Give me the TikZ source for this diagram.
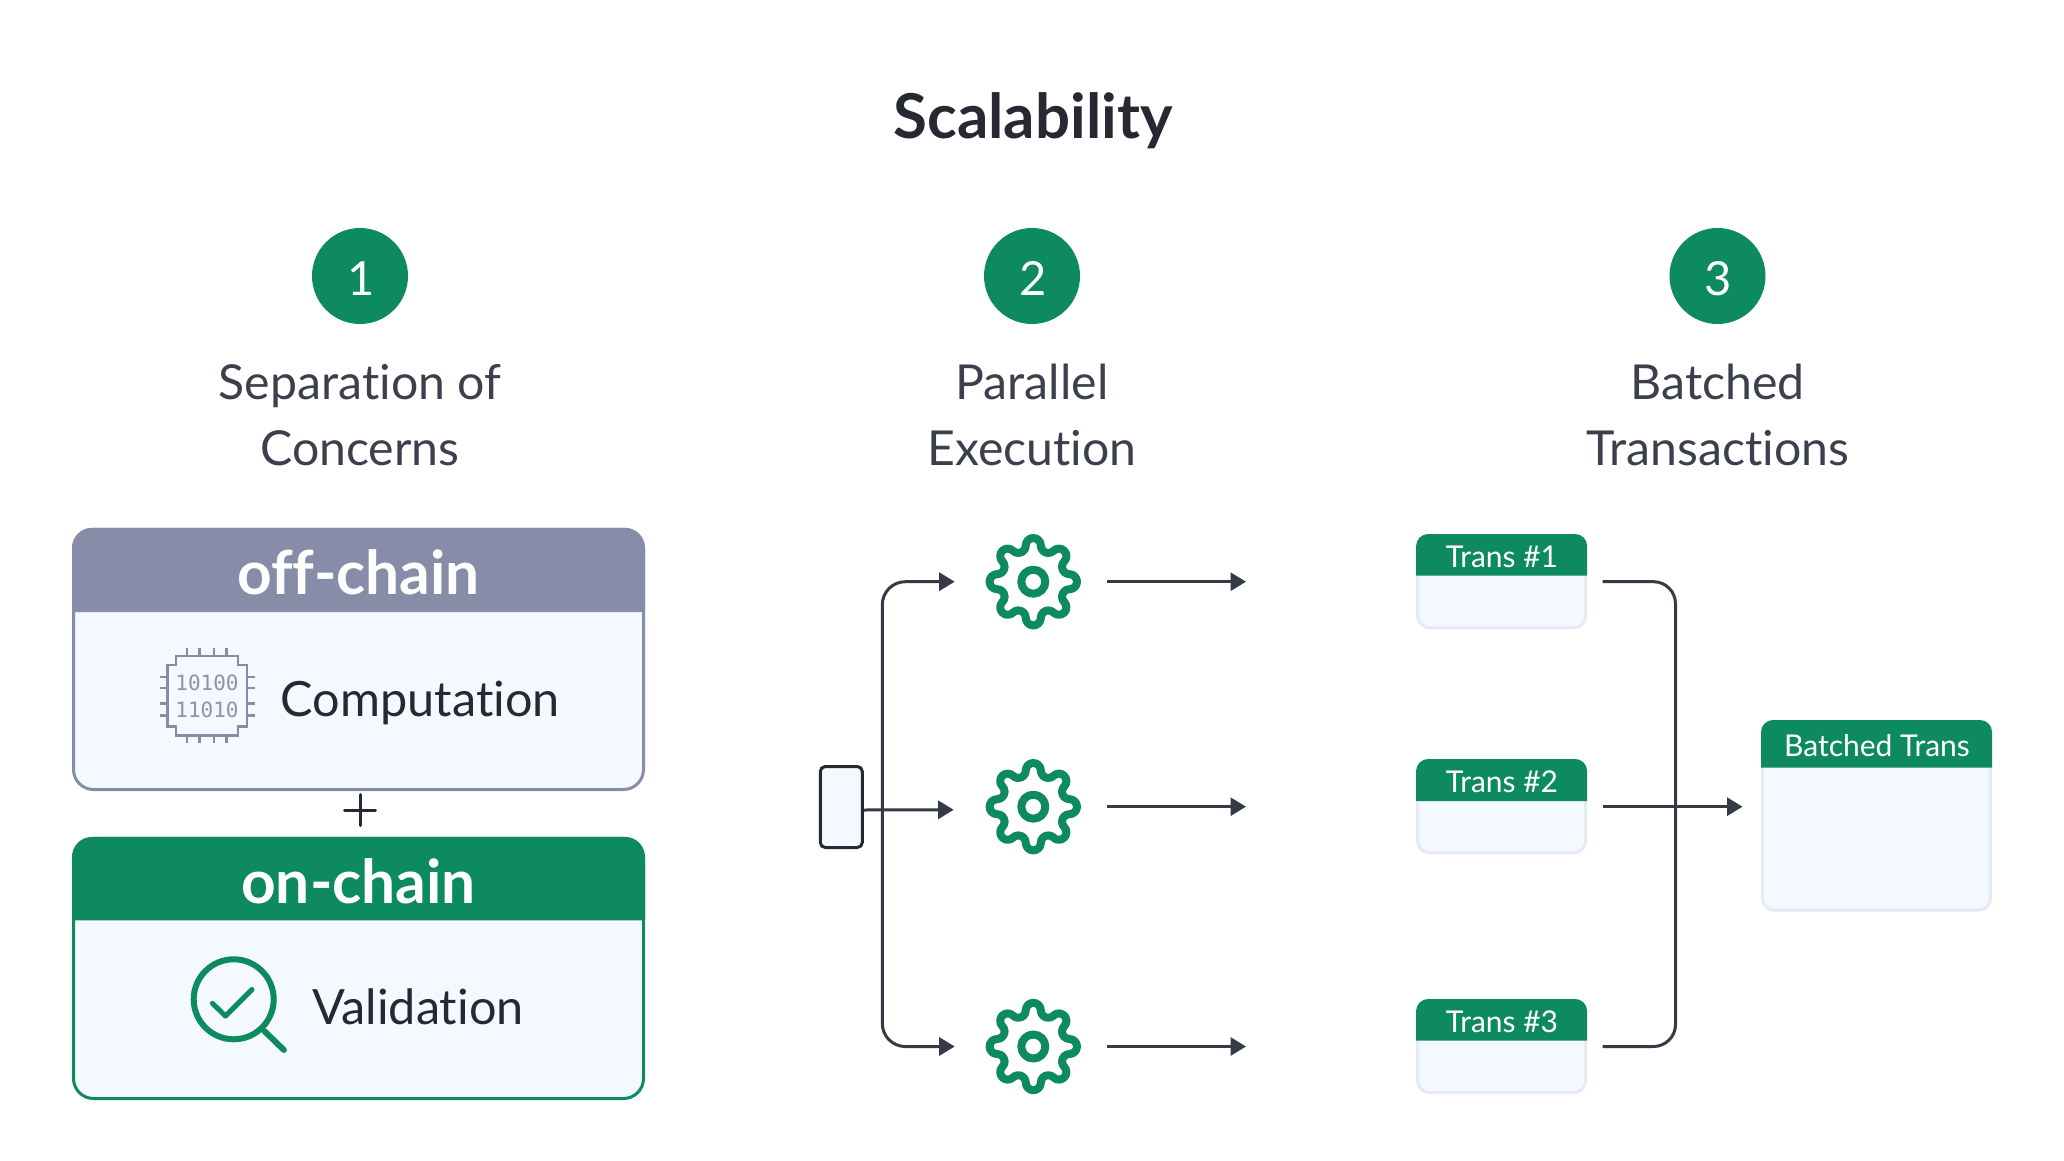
\documentclass[tikz,border=0pt]{standalone}
\usepackage{fontspec}
\setmainfont{Lato}[Ligatures=NoCommon]
\newfontfamily\chipfont{DejaVu Sans Mono}
\usetikzlibrary{arrows.meta}
\definecolor{brandgreen}{HTML}{0E8A5F}
\definecolor{slate}{HTML}{878CA8}
\definecolor{chiptext}{HTML}{8E92AC}
\definecolor{panel}{HTML}{F4F8FF}
\definecolor{softedge}{HTML}{E6EAF2}
\definecolor{inkdark}{HTML}{262932}
\definecolor{inklabel}{HTML}{3B404C}
\definecolor{wire}{HTML}{363A47}
\newcommand{\fsz}[1]{\fontsize{#1}{#1}\selectfont}
\newcommand{\gearicon}[2]{%
  \begin{scope}[shift={(#1,#2)},x=1pt,y=1pt]
  \draw[geardraw] (36.2,-7.5) \foreach \k in {0,45,...,315} {
      arc[start angle=\k-90,end angle=\k+90,radius=7.5]
      arc[start angle=\k-90,end angle=\k-225,radius=7.5]
    } -- cycle;
  \draw[geardraw] (0,0) circle[radius=12];
  \end{scope}
}
\newcommand{\headerband}[5]{%
  \fill[#5,rounded corners=#4] (#1) -- (#1 |- #2) -- (#3 |- #2) [sharp corners] -- (#3 |- #1) -- cycle;
}
\tikzset{
  geardraw/.style={draw=brandgreen,line width=8pt,line join=round},
  gearnode/.style={circle,minimum size=95.4pt,inner sep=0pt},
  numdisc/.style={circle,fill=brandgreen,minimum size=96pt,inner sep=0pt},
  numtext/.style={anchor=base,text=white,font=\fsz{47}},
  heading/.style={anchor=base,text=inklabel,font=\fsz{48.2}},
  bigbox/.style={rounded corners=20pt,line width=3pt,fill=panel,minimum width=570pt,inner sep=0pt},
  bandtext/.style={anchor=base,text=white,font=\bfseries\fsz{60.4}},
  itemtext/.style={anchor=base west,inner sep=0pt,text=inkdark,font=\fsz{48.6}},
  tbox/.style={rounded corners=12pt,draw=softedge,line width=3pt,fill=panel,inner sep=0pt},
  ttext/.style={anchor=base,text=white,font=\fsz{30}},
  wirearrow/.style={draw=wire,line width=3pt,-{Triangle[length=15.5pt,width=18pt]}},
  wireplain/.style={draw=wire,line width=3pt},
}
\begin{document}
\begin{tikzpicture}[x=1pt,y=-1pt]
\useasboundingbox (0,0) rectangle (2064,1161);
\fill[white] (0,0) rectangle (2064,1161);

\node[anchor=base,text=inkdark,font=\bfseries\fsz{61.8}] (title) at (1033,139) {Scalability};

\node[numdisc] (c1) at (360,276) {};
\node[numdisc] (c2) at (1032,276) {};
\node[numdisc] (c3) at (1717.5,276) {};
\node[numtext] (n1) at (361,295) {1};
\node[numtext] (n2) at (1033,295) {2};
\node[numtext] (n3) at (1718.5,295) {3};

\node[heading] (h1a) at (360,399) {Separation of};
\node[heading] (h1b) at (360,465) {Concerns};
\node[heading] (h2a) at (1032,399) {Parallel};
\node[heading] (h2b) at (1032,465) {Execution};
\node[heading] (h3a) at (1717.5,399) {Batched};
\node[heading] (h3b) at (1717.5,465) {Transactions};

% off-chain panel
\node[bigbox,draw=slate,minimum height=260.2pt] (off) at (358.5,659.4) {};
\coordinate (offl) at (72,612);
\coordinate (offt) at (72,527.8);
\coordinate (offr) at (645,612);
\headerband{offl}{offt}{offr}{20pt}{slate}
\node[bandtext] (offlabel) at (358.5,594.3) {off-chain};
% chip icon
\begin{scope}[slate,line width=2.5pt]
\draw[fill=panel] (176,656.2) -- (238,656.2) -- (238,665) -- (247,665) -- (247,726.6) -- (238,726.6) -- (238,735.3) -- (176,735.3) -- (176,726.6) -- (167.5,726.6) -- (167.5,665) -- (176,665) -- cycle;
\foreach \px in {187,199.5,214,226.5} {
  \draw (\px,648.3) -- (\px,656.2);
  \draw (\px,735.3) -- (\px,743.2);
}
\foreach \py in {677.2,687.9,703.7,715.5} {
  \draw (159.5,\py) -- (167.5,\py);
  \draw (247,\py) -- (255,\py);
}
\end{scope}
\node[text=chiptext,font=\chipfont\fsz{21}] (chipa) at (207,682.7) {10100};
\node[text=chiptext,font=\chipfont\fsz{21}] (chipb) at (207,709.6) {11010};
\node[itemtext] (comp) at (280.6,716.4) {Computation};

% plus
\draw[inkdark,line width=3pt,line cap=round] (344.5,810) -- (375.5,810) (360,794.5) -- (360,825.5);

% on-chain panel
\node[bigbox,draw=brandgreen,minimum height=260.1pt] (on) at (358.5,968.45) {};
\coordinate (onl) at (72,920.3);
\coordinate (ont) at (72,836.9);
\coordinate (onr) at (645,920.3);
\headerband{onl}{ont}{onr}{20pt}{brandgreen}
\node[bandtext] (onlabel) at (358.5,903.3) {on-chain};
% magnifier
\draw[brandgreen,line width=6pt] (233.7,999.3) circle[radius=40];
\draw[brandgreen,line width=6pt,line cap=round] (264.3,1031) -- (283.9,1050);
\draw[brandgreen,line width=5pt,line cap=round,line join=round] (212.4,1003.3) -- (225.5,1016) -- (252,989.5);
\node[itemtext] (valid) at (312,1024.7) {Validation};

% source box
\node[rounded corners=5pt,draw=inkdark,line width=3pt,fill=panel,minimum width=42pt,minimum height=81pt,inner sep=0pt] (src) at (841.3,807) {};

% gears
\node[gearnode] (g1) at (1033.3,581.7) {};
\node[gearnode] (g2) at (1033.3,806.7) {};
\node[gearnode] (g3) at (1033.3,1046.5) {};
\gearicon{1033.3}{581.7}
\gearicon{1033.3}{806.7}
\gearicon{1033.3}{1046.5}

\coordinate (bus) at (882.3,807);
\coordinate (ge1) at (1246,581.7);
\coordinate (ge2) at (1246,806.7);
\coordinate (ge3) at (1246,1046.5);

\draw[wireplain,{Triangle[length=15.5pt,width=18pt]}-{Triangle[length=15.5pt,width=18pt]},rounded corners=23pt,shorten <=30.7pt,shorten >=30.7pt]
  (g1.west) -- (bus |- g1.west) -- (bus |- g3.west) -- (g3.west);
\draw[wirearrow,shorten >=31.7pt] ([yshift=-3pt]src.east) -- ([yshift=-3pt]g2.west);
\draw[wirearrow,shorten <=26pt] (g1.east) -- (ge1);
\draw[wirearrow,shorten <=26pt] (g2.east) -- (ge2);
\draw[wirearrow,shorten <=26pt] (g3.east) -- (ge3);

% transaction boxes
\node[tbox,minimum width=168pt,minimum height=92.3pt] (t1) at (1501.6,581.7) {};
\node[tbox,minimum width=168pt,minimum height=92.3pt] (t2) at (1501.6,806.7) {};
\node[tbox,minimum width=168pt,minimum height=92.3pt] (t3) at (1501.6,1046.5) {};
\node[tbox,minimum width=228pt,minimum height=188.7pt] (bt) at (1876.5,815.85) {};

\coordinate (t1l) at (1416.1,575.7); \coordinate (t1t) at (1416.1,534);  \coordinate (t1r) at (1587.1,575.7);
\coordinate (t2l) at (1416.1,801);   \coordinate (t2t) at (1416.1,759);  \coordinate (t2r) at (1587.1,801);
\coordinate (t3l) at (1416.1,1040.7);\coordinate (t3t) at (1416.1,999);  \coordinate (t3r) at (1587.1,1040.7);
\coordinate (btl) at (1761,767.7);   \coordinate (btt) at (1761,720);    \coordinate (btr) at (1992,767.7);
\headerband{t1l}{t1t}{t1r}{12pt}{brandgreen}
\headerband{t2l}{t2t}{t2r}{12pt}{brandgreen}
\headerband{t3l}{t3t}{t3r}{12pt}{brandgreen}
\headerband{btl}{btt}{btr}{12pt}{brandgreen}
\node[ttext] (t1label) at (1502,567.7) {Trans \#1};
\node[ttext] (t2label) at (1502,792.7) {Trans \#2};
\node[ttext] (t3label) at (1502,1032.5) {Trans \#3};
\node[ttext] (btlabel) at (1877,756.7) {Batched Trans};

\coordinate (merge) at (1675.5,806.7);
\draw[wireplain,rounded corners=22pt,shorten <=15.4pt,shorten >=15.4pt]
  (t1.east) -- (merge |- t1.east) -- (merge |- t3.east) -- (t3.east);
\draw[wirearrow,shorten <=15.4pt,shorten >=18.5pt] (t2.east) -- (bt.west |- t2.east);
\end{tikzpicture}
\end{document}
